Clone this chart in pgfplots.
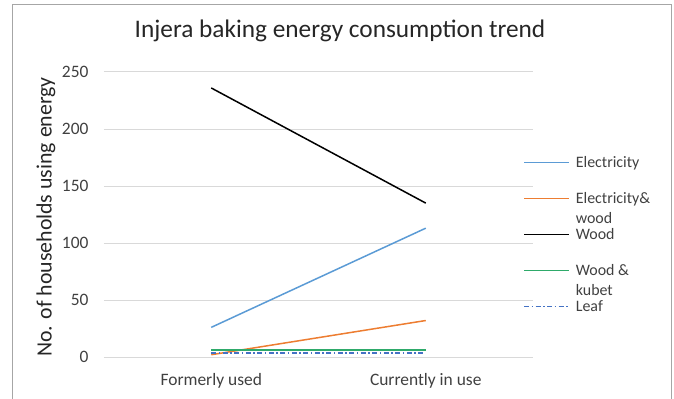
\documentclass[border=0pt]{standalone}
\usepackage{pgfplots}
\pgfplotsset{compat=1.18}
\usepackage{fontspec}
\setmainfont{Carlito}
\definecolor{elec}{RGB}{91,155,213}
\definecolor{orng}{RGB}{237,125,49}
\definecolor{kubet}{RGB}{46,170,106}
\definecolor{leaf}{RGB}{68,114,196}
\definecolor{gridc}{RGB}{217,217,217}
\definecolor{txt}{RGB}{64,64,64}
\newcommand\amp{\char38}
% two-line legend text, the first line on the row's baseline
\newcommand\lent[2]{\parbox[t]{90bp}{\baselineskip=20bp #1\par #2}}
\begin{document}
\begin{tikzpicture}[x=1bp,y=1bp]
\useasboundingbox (-104,-41) rectangle (570,357);
\draw[gray!70, line width=0.9bp] (-92,-60) -- (-92,353) -- (567,353) -- (567,-60);
\begin{axis}[
  at={(0,0)}, anchor=south west,
  scale only axis, width=429bp, height=285bp,
  xmin=-0.5, xmax=1.5, ymin=0, ymax=250,
  xtick={0,1}, xticklabels={Formerly used, Currently in use},
  ytick={0,50,...,250},
  major tick length=0pt,
  axis line style={draw=none},
  ymajorgrids, grid style={gridc, line width=1bp},
  tick label style={font=\fontsize{17.5}{20}\selectfont, text=txt},
  /pgf/number format/assume math mode=true,
  yticklabel style={anchor=east, xshift=-12bp},
  xticklabel style={anchor=base, yshift=-28bp},
  title={Injera baking energy consumption trend},
  title style={font=\fontsize{25.4}{28}\selectfont, text=black!85, at={(axis description cs:0.5501,1.1018)}, anchor=base},
  ylabel={No. of households using energy},
  ylabel style={font=\fontsize{21.9}{24}\selectfont, text=black!85, at={(axis description cs:-0.1352,0.491)}, anchor=center, rotate=0},
  legend style={draw=none, fill=none, at={(axis cs:1.44,178)}, anchor=north west,
    font=\fontsize{16}{20}\selectfont, text=txt, cells={anchor=west}, row sep=0pt,
    nodes={inner sep=0pt, text height=11bp, text depth=25bp},
    /tikz/every odd column/.append style={column sep=6bp}},
  legend cell align=left,
  legend image code/.code={\draw[#1] (0bp,12bp) -- (45bp,12bp);},
  clip=false,
]
\addplot[elec, line width=1.5bp] coordinates {(0,26) (1,113)};
\addlegendentry{Electricity}
\addplot[orng, line width=1.5bp] coordinates {(0,2) (1,32)};
\addlegendentry{\lent{Electricity\amp}{wood}}
\addplot[black, line width=1.5bp] coordinates {(0,236) (1,135)};
\addlegendentry{Wood}
\addplot[kubet, line width=1.5bp] coordinates {(0,6) (1,6)};
\addlegendentry{\lent{Wood \amp}{kubet}}
\addplot[leaf, line width=1.5bp, dash pattern=on 5bp off 2.5bp on 1.5bp off 2.5bp] coordinates {(0,3.5) (1,3.5)};
\addlegendentry{Leaf}
\end{axis}
\end{tikzpicture}
\end{document}
